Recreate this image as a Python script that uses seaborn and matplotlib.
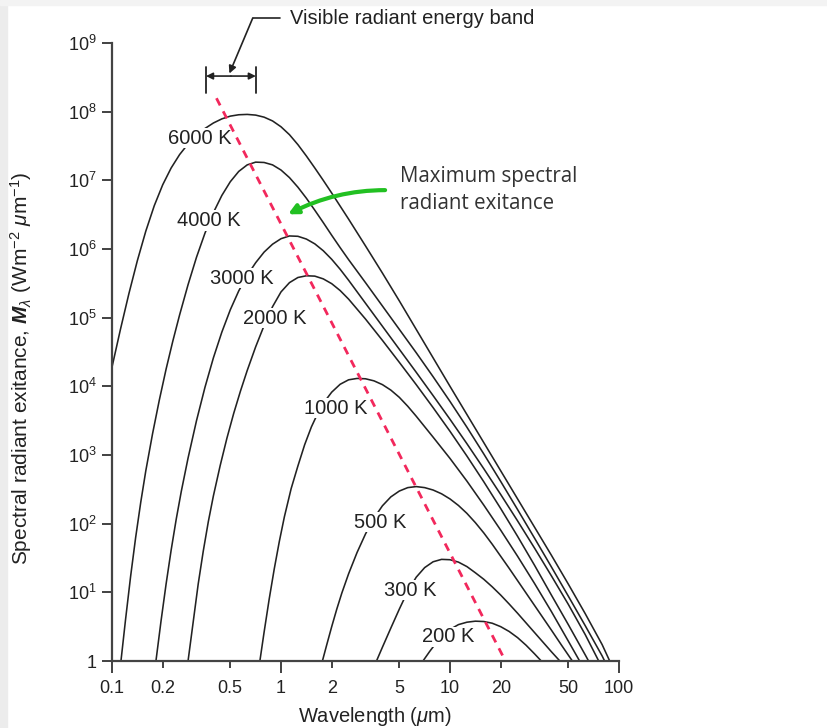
import matplotlib
matplotlib.use("Agg")
import matplotlib.pyplot as plt
from matplotlib.patches import Rectangle
from matplotlib.ticker import NullLocator
import numpy as np
import pandas as pd
import seaborn as sns

# blackbody curves:
# *_x = log10(wavelength, um), *_y = log10(exitance, W m-2 um-1)
T6000_x = [-1.0, -0.95, -0.9, -0.85, -0.8, -0.75, -0.7, -0.65, -0.6, -0.55, -0.5, -0.45, -0.4, -0.35, -0.3, -0.25,
           -0.2, -0.15, -0.1, -0.05, 0.0, 0.05, 0.1, 0.15, 0.2, 0.25, 0.3, 0.4, 0.5, 0.6, 0.7, 0.8, 0.9, 1.0, 1.1,
           1.2, 1.3, 1.4, 1.5, 1.6, 1.7, 1.8, 1.9, 1.945]
T6000_y = [4.28, 4.83, 5.35, 5.83, 6.26, 6.63, 6.935, 7.18, 7.375, 7.53, 7.655, 7.755, 7.835, 7.895, 7.935, 7.955,
           7.96, 7.95, 7.92, 7.865, 7.78, 7.665, 7.52, 7.355, 7.18, 7.0, 6.815, 6.435, 6.045, 5.65, 5.245, 4.83,
           4.415, 4.0, 3.59, 3.18, 2.77, 2.36, 1.95, 1.54, 1.12, 0.69, 0.24, 0.0]

T4000_x = [-0.947, -0.92, -0.89, -0.86, -0.83, -0.8, -0.76, -0.72, -0.68, -0.64, -0.6, -0.55, -0.5, -0.45, -0.4,
           -0.35, -0.3, -0.25, -0.2, -0.15, -0.1, -0.05, 0.0, 0.05, 0.1, 0.15, 0.2, 0.25, 0.3, 0.35, 0.4, 0.5, 0.6,
           0.7, 0.8, 0.9, 1.0, 1.1, 1.2, 1.3, 1.4, 1.5, 1.6, 1.7, 1.8, 1.9, 1.915]
T4000_y = [0.0, 0.6, 1.23, 1.8, 2.31, 2.77, 3.31, 3.8, 4.25, 4.66, 5.04, 5.48, 5.88, 6.23, 6.53, 6.78, 6.98, 7.13,
           7.225, 7.265, 7.26, 7.225, 7.15, 7.04, 6.9, 6.74, 6.565, 6.385, 6.2, 6.02, 5.845, 5.51, 5.17, 4.83, 4.49,
           4.14, 3.78, 3.405, 3.015, 2.615, 2.205, 1.79, 1.37, 0.945, 0.515, 0.075, 0.0]

T3000_x = [-0.74, -0.71, -0.68, -0.65, -0.62, -0.59, -0.55, -0.5, -0.45, -0.4, -0.35, -0.3, -0.25, -0.2, -0.15,
           -0.1, -0.05, 0.0, 0.05, 0.1, 0.15, 0.2, 0.25, 0.3, 0.35, 0.4, 0.5, 0.6, 0.7, 0.8, 0.9, 1.0, 1.1, 1.2,
           1.3, 1.4, 1.5, 1.6, 1.7, 1.8, 1.88]
T3000_y = [0.0, 0.58, 1.12, 1.615, 2.065, 2.47, 2.955, 3.5, 3.985, 4.415, 4.79, 5.115, 5.39, 5.615, 5.8, 5.955,
           6.07, 6.15, 6.19, 6.185, 6.145, 6.075, 5.975, 5.85, 5.705, 5.545, 5.21, 4.875, 4.54, 4.205, 3.865, 3.52,
           3.165, 2.8, 2.425, 2.04, 1.645, 1.24, 0.825, 0.385, 0.0]

T2000_x = [-0.55, -0.52, -0.49, -0.46, -0.43, -0.4, -0.36, -0.32, -0.28, -0.24, -0.2, -0.15, -0.1, -0.05, 0.0,
           0.05, 0.1, 0.15, 0.2, 0.25, 0.3, 0.35, 0.4, 0.5, 0.6, 0.7, 0.8, 0.9, 1.0, 1.1, 1.2, 1.3, 1.4, 1.5, 1.6,
           1.7, 1.8, 1.82]
T2000_y = [0.0, 0.56, 1.12, 1.6, 2.03, 2.405, 2.845, 3.245, 3.605, 3.93, 4.23, 4.575, 4.885, 5.16, 5.375, 5.51,
           5.585, 5.61, 5.605, 5.565, 5.495, 5.395, 5.27, 4.98, 4.67, 4.35, 4.025, 3.69, 3.345, 2.985, 2.61, 2.22,
           1.815, 1.395, 0.96, 0.53, 0.09, 0.0]

T1000_x = [-0.125, -0.1, -0.07, -0.04, -0.01, 0.02, 0.06, 0.1, 0.14, 0.18, 0.22, 0.26, 0.3, 0.35, 0.4, 0.45, 0.5,
           0.55, 0.6, 0.65, 0.7, 0.75, 0.8, 0.9, 1.0, 1.1, 1.2, 1.3, 1.4, 1.5, 1.6, 1.7, 1.767]
T1000_y = [0.0, 0.42, 0.9, 1.34, 1.74, 2.1, 2.51, 2.84, 3.15, 3.41, 3.62, 3.785, 3.915, 4.03, 4.095, 4.115, 4.11,
           4.08, 4.025, 3.945, 3.84, 3.71, 3.565, 3.26, 2.95, 2.62, 2.27, 1.905, 1.525, 1.13, 0.72, 0.29, 0.0]

T500_x = [0.245, 0.27, 0.3, 0.33, 0.36, 0.4, 0.45, 0.5, 0.55, 0.6, 0.65, 0.7, 0.75, 0.8, 0.85, 0.9, 0.95, 1.0,
          1.05, 1.1, 1.15, 1.2, 1.25, 1.3, 1.35, 1.4, 1.5, 1.6, 1.66, 1.724]
T500_y = [0.0, 0.23, 0.5, 0.755, 0.99, 1.27, 1.58, 1.85, 2.08, 2.26, 2.39, 2.475, 2.525, 2.54, 2.525, 2.49, 2.435,
          2.36, 2.265, 2.15, 2.015, 1.865, 1.7, 1.525, 1.35, 1.17, 0.81, 0.45, 0.23, 0.0]

T300_x = [0.565, 0.6, 0.65, 0.7, 0.75, 0.8, 0.85, 0.9, 0.95, 1.0, 1.05, 1.1, 1.15, 1.2, 1.25, 1.3, 1.35, 1.4, 1.45,
          1.5, 1.55, 1.6, 1.65]
T300_y = [0.0, 0.2, 0.48, 0.755, 1.015, 1.22, 1.36, 1.445, 1.48, 1.475, 1.44, 1.375, 1.285, 1.19, 1.08, 0.96, 0.83,
          0.695, 0.555, 0.415, 0.275, 0.135, 0.0]

T200_x = [0.84, 0.88, 0.92, 0.96, 1.0, 1.05, 1.1, 1.15, 1.2, 1.25, 1.3, 1.35, 1.4, 1.45, 1.5, 1.54]
T200_y = [0.0, 0.14, 0.27, 0.38, 0.46, 0.53, 0.565, 0.58, 0.575, 0.55, 0.5, 0.43, 0.34, 0.23, 0.105, 0.0]

# locus of the maxima (dashed red)
wien_lam = [0.415, 20.7]
wien_M = [1.57e8, 1.14]

# curve labels
label_text = ["6000 K", "4000 K", "3000 K", "2000 K", "1000 K", "500 K", "300 K", "200 K"]
label_lam = [0.329, 0.375, 0.585, 0.917, 2.11, 3.86, 5.82, 9.78]
label_M = [4.1e7, 2.6e6, 3.76e5, 9.8e4, 4.8e3, 105, 10.8, 2.24]

visible_band = [0.36, 0.71]

x_major = [0.1, 1, 10, 100]
x_major_lab = ["0.1", "1", "10", "100"]
x_minor = [0.2, 0.5, 2, 5, 20, 50]
x_minor_lab = ["0.2", "0.5", "2", "5", "20", "50"]
y_ticks = [10 ** k for k in range(10)]
y_tick_lab = ["1"] + [r"10$^{%d}$" % k for k in range(1, 10)]

curves = {6000: (T6000_x, T6000_y), 4000: (T4000_x, T4000_y), 3000: (T3000_x, T3000_y),
          2000: (T2000_x, T2000_y), 1000: (T1000_x, T1000_y), 500: (T500_x, T500_y),
          300: (T300_x, T300_y), 200: (T200_x, T200_y)}
df = pd.concat([pd.DataFrame({"lam": 10 ** np.array(lx), "M": 10 ** np.array(ly), "T": t})
                for t, (lx, ly) in curves.items()])

sns.set_theme(style="white")
plt.rcParams["font.family"] = ["Liberation Sans", "DejaVu Sans"]
plt.rcParams["mathtext.fontset"] = "custom"
plt.rcParams["mathtext.rm"] = "Liberation Sans"
plt.rcParams["mathtext.it"] = "Liberation Sans:italic"
plt.rcParams["mathtext.bf"] = "Liberation Sans:bold"
plt.rcParams["mathtext.bfit"] = "Liberation Sans:bold:italic"

ink = "#222222"
fig = plt.figure(figsize=(8.27, 7.28), dpi=100)
fig.patches.append(Rectangle((0, 0), 7 / 827, 1, transform=fig.transFigure, color="#ececec", zorder=-5))
fig.patches.append(Rectangle((0, 1 - 5 / 728), 1, 5 / 728, transform=fig.transFigure, color="#f3f3f3", zorder=-5))

ax = fig.add_axes([112 / 827, 1 - 661 / 728, 507 / 827, 618 / 728])
ax.set_facecolor("none")

sns.lineplot(data=df, x="lam", y="M", units="T", estimator=None, sort=False,
             color=ink, lw=1.15, ax=ax, zorder=2)

ax.plot(wien_lam, wien_M, color="#f2285c", lw=2.0, dashes=(2.9, 2.4), zorder=4)

ax.set_xscale("log")
ax.set_yscale("log")
ax.set_xlim(0.1, 100)
ax.set_ylim(1, 1e9)

ax.set_xticks(x_major)
ax.set_xticklabels(x_major_lab)
ax.set_xticks(x_minor, minor=True)
ax.set_xticklabels(x_minor_lab, minor=True)
ax.set_yticks(y_ticks)
ax.set_yticklabels(y_tick_lab)
ax.yaxis.set_minor_locator(NullLocator())
ax.tick_params(axis="x", which="major", direction="out", length=8.6, width=1.3, pad=5,
               labelsize=13, color="#333333", labelcolor=ink, bottom=True)
ax.tick_params(axis="x", which="minor", direction="out", length=5, width=1.3, pad=8.6,
               labelsize=13, color="#333333", labelcolor=ink, bottom=True)
ax.tick_params(axis="y", which="major", direction="out", length=7.2, width=1.3, pad=3.6,
               labelsize=13, color="#333333", labelcolor=ink, left=True)
ax.set_xlabel("")
ax.set_ylabel("")
for side in ["top", "right"]:
    ax.spines[side].set_visible(False)
for side in ["left", "bottom"]:
    ax.spines[side].set_color("#444444")
    ax.spines[side].set_linewidth(1.6)

for txt, lx, ly in zip(label_text, label_lam, label_M):
    ax.text(lx, ly, txt, ha="center", va="center", fontsize=14.5, color=ink, zorder=3,
            bbox=dict(facecolor="white", edgecolor="none", pad=0.4))

# visible band bracket
band_y = 3.3e8
band_mid = (visible_band[0] * visible_band[1]) ** 0.5
for end in visible_band:
    ax.plot([end, end], [1.9e8, 4.4e8], color=ink, lw=1.3, clip_on=False)
    ax.annotate("", xy=(end, band_y), xytext=(band_mid, band_y), annotation_clip=False,
                arrowprops=dict(arrowstyle="-|>", color=ink, lw=1.2, mutation_scale=10, shrinkA=0, shrinkB=0))
ax.plot([0.98, 0.68], [2.3e9, 2.3e9], color=ink, lw=1.2, clip_on=False)
ax.annotate("", xy=(0.495, 3.6e8), xytext=(0.68, 2.3e9), annotation_clip=False,
            arrowprops=dict(arrowstyle="-|>", color=ink, lw=1.2, mutation_scale=11, shrinkA=0, shrinkB=0))
ax.text(1.13, 2.3e9, "Visible radiant energy band", ha="left", va="center", fontsize=14.5, color=ink,
        clip_on=False)

# maximum spectral radiant exitance note
ax.text(5.07, 7.2e6, "Maximum spectral\nradiant exitance", ha="left", va="center", fontsize=14.8,
        family="Open Sans", color="#333333", linespacing=1.4)
ax.annotate("", xy=(1.10, 3.2e6), xytext=(4.13, 7.2e6),
            arrowprops=dict(arrowstyle="-|>", color="#22c022", lw=3, mutation_scale=14, shrinkA=0, shrinkB=0,
                            connectionstyle="angle3,angleA=0,angleB=27"))

fig.text(21 / 827, 1 - 368 / 728,
         r"Spectral radiant exitance, $\mathbfit{M}_{\lambda}$ (Wm$^{-2}$ $\mu$m$^{-1}$)",
         rotation=90, ha="center", va="center", fontsize=15, color=ink)
fig.text(375 / 827, 6 / 728, r"Wavelength ($\mu$m)", ha="center", va="baseline", fontsize=14.5, color=ink)

fig.savefig("out.png", dpi=100)
